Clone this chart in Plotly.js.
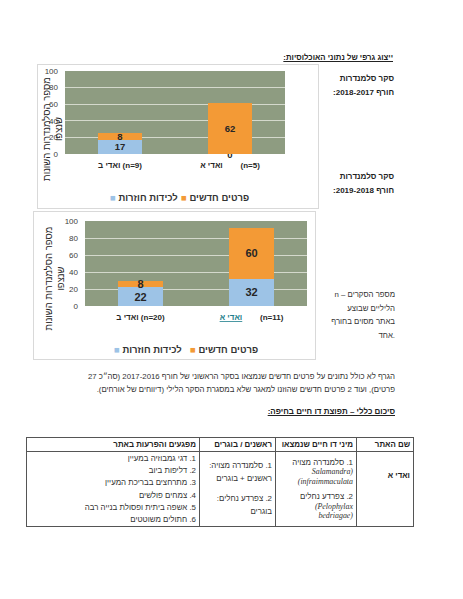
<!DOCTYPE html>
<html>
<head>
<meta charset="utf-8">
<script src="https://cdn.plot.ly/plotly-3.0.1.min.js"></script>
<style>
html, body { margin: 0; padding: 0; background: #fff; }
#page { position: relative; width: 463px; height: 599px; overflow: hidden;
        font-family: "Liberation Sans", "DejaVu Sans", Arial, sans-serif; color: #333; }
.t { position: absolute; white-space: nowrap; direction: rtl; text-align: right; }
.b { font-weight: bold; color: #222; }
.u { text-decoration: underline; }
.chart { position: absolute; outline: 1px solid #d9d9d9; }
#note { position: absolute; left: 315px; top: 288px; width: 80px; font-size: 7.8px; line-height: 13.5px;
        white-space: nowrap; direction: ltr; }
#note .row { display: flex; flex-direction: row; justify-content: flex-end; direction: ltr; }
#note .he { direction: rtl; unicode-bidi: isolate; }
#tbl { position: absolute; left: 26px; top: 437px; width: 388px; border-collapse: collapse;
       direction: rtl; font-size: 7.9px; color: #333; }
#tbl td, #tbl th { border: 1px solid #555; padding: 0 3px; text-align: right; white-space: nowrap; }
#tbl th { height: 13px; font-weight: bold; color: #222; }
#tbl td { height: 72px; vertical-align: middle; }
.lat { font-family: "Liberation Serif", "DejaVu Serif", serif; font-style: italic; }
</style>
</head>
<body>
<div id="page">
  <div class="t b u" style="right:70px; top:52px; font-size:7.8px; line-height:12px;">ייצוג גרפי של נתוני האוכלוסיות:</div>

  <div class="t b" style="right:69px; top:73px; font-size:8px; line-height:12px;">סקר סלמנדרות</div>
  <div class="t b" style="right:69px; top:87px; font-size:8px; line-height:12px;">חורף 2017&#x200F;-&#x200F;2018:</div>
  <div class="t b" style="right:69px; top:171px; font-size:8px; line-height:12px;">סקר סלמנדרות</div>
  <div class="t b" style="right:69px; top:185px; font-size:8px; line-height:12px;">חורף 2018&#x200F;-&#x200F;2019:</div>

  <div id="chart1" class="chart" style="left:38px; top:65px; width:280px; height:143px;"></div>
  <div id="chart2" class="chart" style="left:34px; top:212px; width:281px; height:147px;"></div>

  <div id="note">
    <div class="row"><span>n&nbsp;–&nbsp;</span><span class="he">מספר הסקרים</span></div>
    <div class="row"><span class="he">הליליים שבוצע</span></div>
    <div class="row"><span class="he">באתר מסוים בחורף</span></div>
    <div class="row"><span class="he">אחד</span><span>.</span></div>
  </div>

  <div class="t" style="right:68px; top:370px; font-size:7.8px; line-height:13px;">
    הגרף לא כולל נתונים על פרטים חדשים שנמצאו בסקר הראשוני של חורף 2016&#x200F;-&#x200F;2017 (סה״כ 27<br>פרטים), ועוד 2 פרטים חדשים שהוזנו למאגר שלא במסגרת הסקר הלילי (דיווחים של אורחים).
  </div>

  <div class="t b u" style="right:68px; top:406px; font-size:8px; line-height:12px;">סיכום כללי – תפוצת דו חיים בחיפה:</div>

  <table id="tbl">
    <tr>
      <th style="width:50px;">שם האתר</th>
      <th style="width:74px;">מיני דו חיים שנמצאו</th>
      <th style="width:69px;">ראשנים / בוגרים</th>
      <th>מפגעים והפרעות באתר</th>
    </tr>
    <tr>
      <td class="b"><span style="position:relative; top:-14px;">ואדי א</span></td>
      <td style="line-height:9.5px;">
        <div>1. סלמנדרה מצויה</div>
        <div class="lat">(Salamandra</div>
        <div class="lat">infraimmaculata)</div>
        <div style="height:6px;"></div>
        <div>2. צפרדע נחלים</div>
        <div class="lat" dir="ltr" style="text-align:right;">(Pelophylax</div>
        <div class="lat" dir="ltr" style="text-align:right;">bedriagae)</div>
      </td>
      <td style="line-height:12.5px;">
        <div>1. סלמנדרה מצויה:</div>
        <div>ראשנים + בוגרים</div>
        <div style="height:8px;"></div>
        <div>2. צפרדע נחלים:</div>
        <div>בוגרים</div>
      </td>
      <td style="line-height:12.2px; vertical-align:top; padding-top:1px;">
        <div>1. דגי גמבוזיה במעיין</div>
        <div>2. דליפות ביוב</div>
        <div>3. מתרחצים בבריכת המעיין</div>
        <div>4. צמחים פולשים</div>
        <div>5. אשפה ביתית ופסולת בנייה רבה</div>
        <div>6. חתולים משוטטים</div>
      </td>
    </tr>
  </table>
</div>

<script>
// נתוני הסקר — חורף 2017-2018
const sites1       = ['ואדי ב', 'ואדי א'];
const nights1      = [9, 5];
const recaptures1  = [17, 0];
const newInd1      = [8, 62];

// נתוני הסקר — חורף 2018-2019
const sites2       = ['ואדי ב', 'ואדי א'];
const nights2      = [20, 11];
const recaptures2  = [22, 32];
const newInd2      = [8, 60];

const seriesNames  = ['לכידות חוזרות', 'פרטים חדשים'];
const seriesColors = ['#9dc3e6', '#f39a36'];
const yTitle       = 'מספר הסלמנדרות השונות<br>שנצפו';

const FONT = '"Liberation Sans", "DejaVu Sans", Arial, sans-serif';

function drawChart(id, sites, nights, rec, nw, cfg) {
    const ticktext = sites.map((s, i) => {
        const name = (cfg.linkIdx === i)
            ? `<span style="color:#1f7f8c;text-decoration:underline">${s}</span>`
            : s;
        const gap = (i === sites.length - 1) ? '\u00a0'.repeat(cfg.gap) : ' ';
        return `<b>${name}${gap}(n=${nights[i]})</b>`;
    });

    // עמודה בגובה 0 — תווית "0" על קו הבסיס (כמו במקור)
    const mk = (vals, k) => ({
        type: 'bar',
        x: sites,
        y: vals,
        name: seriesNames[k],
        marker: { color: seriesColors[k], line: { width: 0 } },
        text: vals.map(String),
        textposition: vals.map(v => v === 0 ? 'outside' : 'inside'),
        insidetextanchor: 'middle',
        textangle: 0,
        constraintext: 'none',
        cliponaxis: false,
        textfont: { family: FONT, size: cfg.labelSize, color: '#262626', weight: 'bold' },
        outsidetextfont: { family: FONT, size: cfg.labelSize, color: '#262626', weight: 'bold' },
        hoverinfo: 'skip',
    });

    const legendAnn = seriesNames.map((n, k) => ({
        xref: 'paper', yref: 'paper',
        x: cfg.legendX[k], y: cfg.legendY,
        xanchor: 'center', yanchor: 'middle',
        showarrow: false,
        text: `<span style="color:${seriesColors[k]}">■</span> <b>${n}</b>`,
        font: { family: FONT, size: 9.5, color: '#333' },
    }));

    Plotly.newPlot(id, [mk(rec, 0), mk(nw, 1)], {
        width: cfg.w, height: cfg.h,
        margin: cfg.margin,
        paper_bgcolor: '#ffffff',
        plot_bgcolor: '#8e9c81',
        barmode: 'stack',
        bargap: 0.6,
        showlegend: false,
        font: { family: FONT, color: '#333' },
        xaxis: {
            type: 'category',
            tickvals: sites, ticktext: ticktext,
            tickfont: { size: 8, color: '#262626' },
            ticks: '', showline: false, showgrid: false,
            ticklabelstandoff: 5,
            fixedrange: true,
        },
        yaxis: {
            range: [0, 100], tick0: 0, dtick: 20,
            gridcolor: 'rgba(235,238,230,0.75)', gridwidth: 1,
            zeroline: false, showline: false, ticks: '',
            tickfont: { size: 8, color: '#404040' },
            ticklabelstandoff: 6,
            fixedrange: true,
        },
        annotations: [{
            xref: 'paper', yref: 'paper',
            x: cfg.titleX, y: cfg.titleY,
            xanchor: 'center', yanchor: 'middle',
            textangle: -90, showarrow: false, align: 'center',
            text: yTitle,
            font: { family: FONT, size: 9.5, color: '#262626' },
        }].concat(legendAnn),
    }, { displayModeBar: false, staticPlot: true });
}

drawChart('chart1', sites1, nights1, recaptures1, newInd1, {
    w: 280, h: 143,
    margin: { l: 27, r: 33, t: 6, b: 54 },
    gap: 8, linkIdx: -1, labelSize: 9.5,
    titleX: -0.06, titleY: 0.3,
    legendX: [0.357, 0.684], legendY: -0.53,
});

drawChart('chart2', sites2, nights2, recaptures2, newInd2, {
    w: 281, h: 147,
    margin: { l: 51, r: 8, t: 9, b: 53 },
    gap: 8, linkIdx: 1, labelSize: 11,
    titleX: -0.137, titleY: 0.32,
    legendX: [0.284, 0.624], legendY: -0.506,
});
</script>
</body>
</html>
